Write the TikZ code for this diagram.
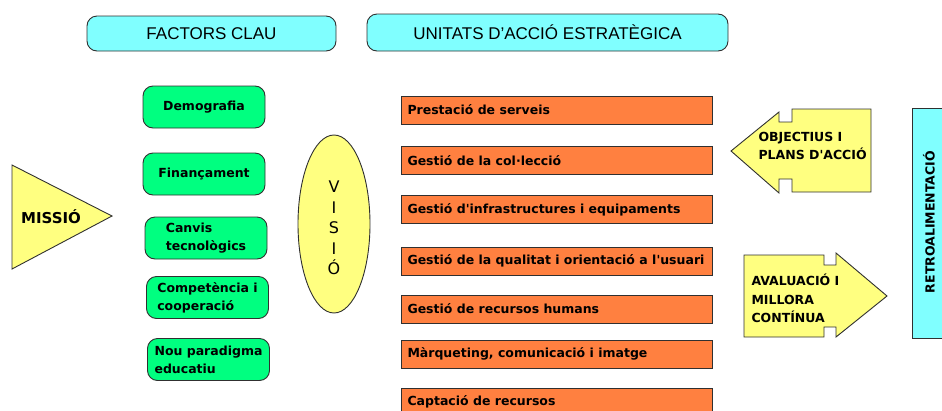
\documentclass[tikz,border=0pt]{standalone}
\usepackage{fontspec}
\setmainfont{Liberation Sans}
\newfontfamily\dejavu{DejaVu Sans}
\usetikzlibrary{shapes.geometric}
\definecolor{capcal}{HTML}{80FFFF}
\definecolor{verd}{HTML}{00FF80}
\definecolor{groc}{HTML}{FFFF80}
\definecolor{taronja}{HTML}{FF8040}
\definecolor{vora}{HTML}{303030}
\tikzset{
  header/.style={draw=vora,line width=0.9pt,fill=capcal,rounded corners=10pt,font=\fontsize{17}{18}\selectfont},
  factor/.style={draw=vora,line width=0.9pt,fill=verd,rounded corners=10pt,minimum width=122,minimum height=42,align=left,inner sep=2pt,font=\dejavu\bfseries\fontsize{12.5}{18}\selectfont},
  unitat/.style={draw=vora,line width=0.9pt,fill=taronja,inner xsep=6.5pt,inner ysep=0pt,minimum height=28,font=\dejavu\bfseries\fontsize{12.5}{16}\selectfont},
  fletxa/.style={draw=vora,line width=0.9pt,fill=groc},
  lletra/.style={align=left,font=\dejavu\bfseries\fontsize{12.5}{18.5}\selectfont}
}
\begin{document}
\begin{tikzpicture}[x=1pt,y=-1pt]
\useasboundingbox (0,0) rectangle (942,410);
\clip (0,0) rectangle (942,410);
\node[header,minimum width=249,minimum height=35] (factors) at (211.5,33.5) {FACTORS CLAU};
\node[header,minimum width=361,minimum height=37] (unitats) at (547.5,32.5) {UNITATS D'ACCIÓ ESTRATÈGICA\hspace{18pt}};
\node[factor] (f1) at (204,107) {Demografia};
\node[factor] (f2) at (204,174) {Finançament};
\node[factor] (f3) at (206,238) {Canvis\\ tecnològics};
\node[factor] (f4) at (207.5,297.5) {Competència i\\cooperació};
\node[factor] (f5) at (208.5,359.5) {Nou paradigma\\educatiu};
\draw[fletxa] (12,165) -- (112,216) -- (12,269) -- cycle;
\node[font=\dejavu\bfseries\fontsize{15}{18}\selectfont] (missio) at (51,217) {MISSIÓ};
\node[fletxa,ellipse,minimum width=72,minimum height=178,inner sep=0pt] (visio) at (334,224) {};
\node[align=center,inner sep=0pt,font=\dejavu\fontsize{16}{20.5}\selectfont] (visiotext) at (334,228) {V\\I\\S\\I\\Ó};
\foreach \n/\y/\t in {1/110/{Prestació de serveis},2/160.5/{Gestió de la col·lecció},3/209.5/{Gestió d'infrastructures i equipaments},4/261/{Gestió de la qualitat i orientació a l'usuari},5/309/{Gestió de recursos humans},6/354/{Màrqueting, comunicació i imatge},7/402/{Captació de recursos}}
\node[unitat] (u\n) at (556.5,\y) {\makebox[298pt][l]{\t}};
\draw[fletxa] (731,151) -- (779,112) -- (779,122) -- (792,122) -- (792,109) -- (871,109) -- (871,192) -- (792,192) -- (792,179) -- (779,179) -- (779,193) -- cycle;
\node[lletra,anchor=west] (objectius) at (755,146) {OBJECTIUS I\\PLANS D'ACCIÓ};
\draw[fletxa] (744,255) -- (824,255) -- (824,265) -- (836,265) -- (836,253) -- (887,296) -- (836,337) -- (836,327) -- (824,327) -- (824,337) -- (744,337) -- cycle;
\node[lletra,anchor=west] (avaluacio) at (748,298.5) {AVALUACIÓ I\\MILLORA\\CONTÍNUA};
\node[draw=vora,line width=0.9pt,fill=capcal,minimum width=40,minimum height=230,anchor=north west] (retro) at (912,108) {};
\node[rotate=90,font=\dejavu\bfseries\fontsize{12.5}{16}\selectfont] (retrotext) at (929,222) {RETROALIMENTACIÓ};
\end{tikzpicture}
\end{document}
